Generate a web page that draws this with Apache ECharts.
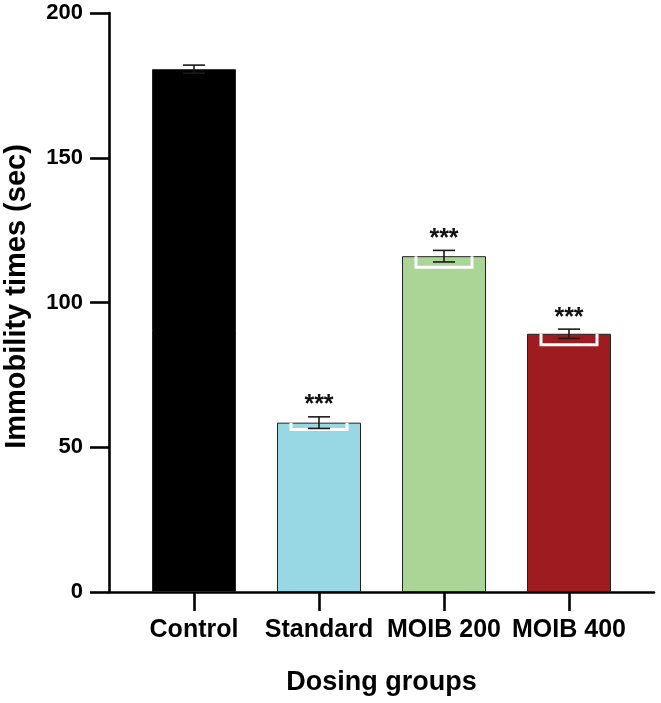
<!DOCTYPE html>
<html lang="en" style="height: 100%">
<head>
  <meta charset="utf-8">
</head>
<body style="height: 100%; margin: 0; background: #fff">
  <div id="container" style="height: 100%"></div>
  <script type="text/javascript" src="https://fastly.jsdelivr.net/npm/echarts@6.0.0/dist/echarts.min.js"></script>
  <script type="text/javascript">
    // data
    var categories = ['Control', 'Standard', 'MOIB 200', 'MOIB 400'];
    var means = [180.6, 58.5, 116.0, 89.2];
    var sem = [1.4, 2.0, 2.0, 1.6];
    var whiteDepth = [0, 2.4, 3.8, 3.8];
    var stars = ['', '***', '***', '***'];
    var colors = ['#000000', '#98d7e4', '#abd596', '#9e1c20'];
    var yTicks = [0, 50, 100, 150, 200];

    var font = '"Liberation Sans", Arial, sans-serif';
    var dom = document.getElementById('container');
    var myChart = echarts.init(dom, null, { renderer: 'canvas' });

    var barData = categories.map(function (c, i) {
      return {
        value: [i, means[i]],
        itemStyle: { color: colors[i] }
      };
    });
    var errData = categories.map(function (c, i) {
      return [i, means[i], sem[i], whiteDepth[i]];
    });

    // error bars + white lower bracket + significance stars
    function renderErr(params, api) {
      var x = api.value(0);
      var m = api.value(1);
      var e = api.value(2);
      var w = api.value(3);
      var top = api.coord([x, m + e]);
      var mid = api.coord([x, m]);
      var bot = api.coord([x, m - e]);
      var wb = api.coord([x, m - w]);
      var cx = mid[0];
      var children = [];
      if (w > 0) {
        children.push({
          type: 'polyline',
          shape: { points: [[cx - 28, mid[1]], [cx - 28, wb[1]], [cx + 28, wb[1]], [cx + 28, mid[1]]] },
          style: { stroke: '#ffffff', lineWidth: 3, fill: null }
        });
      }
      var ec = '#1a1a1a';
      children.push(
        { type: 'line', shape: { x1: cx, y1: top[1], x2: cx, y2: bot[1] }, style: { stroke: ec, lineWidth: 1.6 } },
        { type: 'line', shape: { x1: cx - 11, y1: top[1], x2: cx + 11, y2: top[1] }, style: { stroke: ec, lineWidth: 1.6 } },
        { type: 'line', shape: { x1: cx - 11, y1: bot[1], x2: cx + 11, y2: bot[1] }, style: { stroke: ec, lineWidth: 1.6 } }
      );
      var s = stars[params.dataIndex];
      if (s) {
        children.push({
          type: 'text',
          style: {
            x: cx, y: top[1] + 1, text: s, align: 'center', verticalAlign: 'bottom',
            font: 'bold 25px ' + font, fill: '#111'
          }
        });
      }
      return { type: 'group', children: children };
    }

    var option = {
      backgroundColor: '#ffffff',
      animation: false,
      grid: { left: 109, right: 7, top: 13, bottom: 111, containLabel: false, outerBoundsMode: 'none' },
      xAxis: {
        type: 'value',
        min: -0.68,
        max: 3.68,
        name: 'Dosing groups',
        nameLocation: 'middle',
        nameGap: 77,
        nameTextStyle: { fontFamily: font, fontWeight: 'bold', fontSize: 27, color: '#000' },
        splitLine: { show: false },
        axisLine: { show: true, onZero: false, lineStyle: { color: '#000', width: 2.6 } },
        axisTick: { show: true, customValues: [0, 1, 2, 3], length: 19, lineStyle: { color: '#000', width: 2.6 } },
        axisLabel: {
          customValues: [0, 1, 2, 3],
          margin: 26,
          fontFamily: font, fontWeight: 'bold', fontSize: 25, color: '#000',
          formatter: function (v) { return categories[Math.round(v)]; }
        }
      },
      yAxis: {
        type: 'value',
        min: yTicks[0],
        max: yTicks[yTicks.length - 1],
        interval: 50,
        name: 'Immobility times (sec)',
        nameLocation: 'middle',
        nameGap: 78,
        nameTextStyle: { fontFamily: font, fontWeight: 'bold', fontSize: 29, color: '#000', padding: [0, 0, 0, 12] },
        splitLine: { show: false },
        axisLine: { show: true, onZero: false, lineStyle: { color: '#000', width: 2.6 } },
        axisTick: { show: true, length: 19, lineStyle: { color: '#000', width: 2.6 } },
        axisLabel: { margin: 26, fontFamily: font, fontWeight: 'bold', fontSize: 22, color: '#000' }
      },
      series: [
        {
          type: 'bar',
          barWidth: 84,
          data: barData,
          itemStyle: { borderColor: '#222', borderWidth: 1 }
        },
        {
          type: 'custom',
          renderItem: renderErr,
          data: errData,
          z: 10
        }
      ]
    };

    myChart.setOption(option);
    window.addEventListener('resize', myChart.resize);
  </script>
</body>
</html>
